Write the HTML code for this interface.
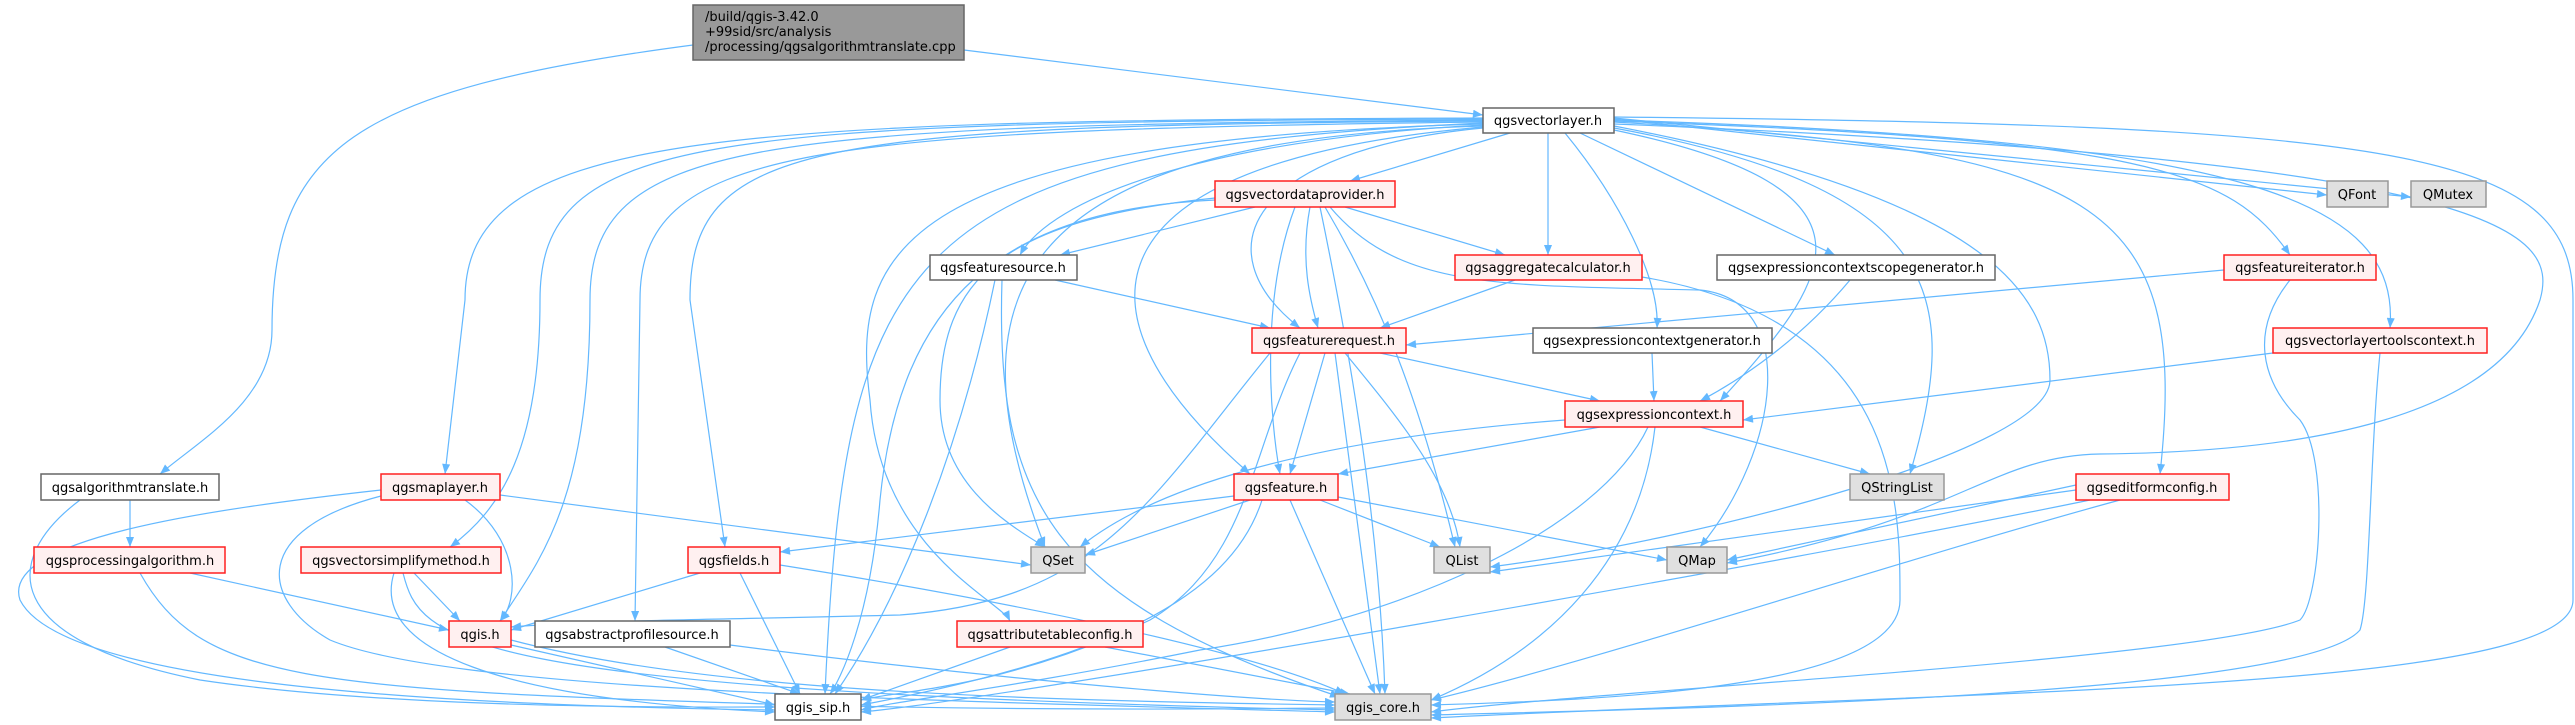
<!DOCTYPE html>
<html><head><meta charset="utf-8"><style>
html,body{margin:0;padding:0;background:#fff;}
svg{display:block;}
text{font-family:"DejaVu Sans","Liberation Sans",sans-serif;font-size:13px;fill:#000;}
.e path{fill:none;stroke:#63b8ff;stroke-width:1.2;}
.w{fill:#fff;stroke:#666;stroke-width:1.5;}
.r{fill:#fff0f0;stroke:#ff2020;stroke-width:1.5;}
.g{fill:#e0e0e0;stroke:#999;stroke-width:1.5;}
</style></head><body>
<svg width="2575" height="725" viewBox="0 0 2575 725" xmlns="http://www.w3.org/2000/svg">
<defs><marker id="a" viewBox="0 0 10 8" refX="10" refY="4" markerWidth="11" markerHeight="8" markerUnits="userSpaceOnUse" orient="auto"><path d="M0,0 L10,4 L0,8 z" fill="#63b8ff"/></marker></defs>
<g class="e">
<path marker-end="url(#a)" d="M964,50 L1483,115"/>
<path marker-end="url(#a)" d="M693,45 C350,90 272,150 272,330 C272,400 200,440 160,474"/>
<path marker-end="url(#a)" d="M130,500 L130,547"/>
<path marker-end="url(#a)" d="M80,500 C0,560 0,640 200,680 C400,710 700,707 775,707"/>
<path marker-end="url(#a)" d="M190,573 L449,630"/>
<path marker-end="url(#a)" d="M140,573 C200,680 300,690 800,705 C1100,712 1300,708 1335,708"/>
<path marker-end="url(#a)" d="M465,500 C520,540 520,600 500,621"/>
<path marker-end="url(#a)" d="M381,490 C200,510 0,540 20,600 C60,680 400,705 775,710"/>
<path marker-end="url(#a)" d="M381,496 C250,530 260,600 330,640 C450,690 900,700 1335,712"/>
<path marker-end="url(#a)" d="M500,495 L1031,565"/>
<path marker-end="url(#a)" d="M414,573 L460,621"/>
<path marker-end="url(#a)" d="M394,573 C370,650 500,700 775,712"/>
<path marker-end="url(#a)" d="M403,573 C420,640 450,690 1335,710"/>
<path marker-end="url(#a)" d="M700,573 L511,630"/>
<path marker-end="url(#a)" d="M740,573 L800,694"/>
<path marker-end="url(#a)" d="M780,565 C1000,600 1250,650 1345,694"/>
<path marker-end="url(#a)" d="M511,645 L775,705"/>
<path marker-end="url(#a)" d="M511,640 C700,690 1000,700 1335,705"/>
<path marker-end="url(#a)" d="M665,647 L800,694"/>
<path marker-end="url(#a)" d="M730,645 C1000,680 1250,700 1335,702"/>
<path marker-end="url(#a)" d="M1010,647 L861,700"/>
<path marker-end="url(#a)" d="M1105,647 L1350,694"/>
<path marker-end="url(#a)" d="M1234,496 L780,552"/>
<path marker-end="url(#a)" d="M1250,500 L1085,555"/>
<path marker-end="url(#a)" d="M1320,500 L1440,547"/>
<path marker-end="url(#a)" d="M1338,497 L1667,560"/>
<path marker-end="url(#a)" d="M1262,500 C1230,600 1100,660 861,705"/>
<path marker-end="url(#a)" d="M1290,500 L1375,694"/>
<path marker-end="url(#a)" d="M1600,427 L1338,474"/>
<path marker-end="url(#a)" d="M1565,420 C1300,440 1150,490 1080,547"/>
<path marker-end="url(#a)" d="M1700,427 L1870,474"/>
<path marker-end="url(#a)" d="M1648,427 C1600,530 1400,620 1200,650 C1000,690 900,700 861,710"/>
<path marker-end="url(#a)" d="M1655,427 C1640,560 1550,650 1431,700"/>
<path marker-end="url(#a)" d="M1380,353 L1600,401"/>
<path marker-end="url(#a)" d="M1325,353 L1290,474"/>
<path marker-end="url(#a)" d="M1345,353 C1400,420 1450,480 1460,547"/>
<path marker-end="url(#a)" d="M1335,353 L1380,694"/>
<path marker-end="url(#a)" d="M1270,353 C1150,500 1100,600 900,615 C700,620 600,620 511,627"/>
<path marker-end="url(#a)" d="M1300,353 C1250,450 1250,560 1150,620 C1000,690 900,690 861,700"/>
<path marker-end="url(#a)" d="M1652,353 L1654,401"/>
<path marker-end="url(#a)" d="M1850,280 C1800,340 1740,380 1700,401"/>
<path marker-end="url(#a)" d="M1055,280 L1270,328"/>
<path marker-end="url(#a)" d="M995,280 C960,450 900,600 835,694"/>
<path marker-end="url(#a)" d="M1002,280 C995,500 1050,600 1340,697"/>
<path marker-end="url(#a)" d="M1515,280 L1380,328"/>
<path marker-end="url(#a)" d="M1642,277 C1900,320 1900,500 1900,600 C1900,690 1600,700 1431,705"/>
<path marker-end="url(#a)" d="M1255,207 L1060,255"/>
<path marker-end="url(#a)" d="M1345,207 L1505,255"/>
<path marker-end="url(#a)" d="M1310,207 C1300,260 1310,300 1318,328"/>
<path marker-end="url(#a)" d="M1295,207 C1260,300 1270,420 1280,474"/>
<path marker-end="url(#a)" d="M1215,198 C1000,220 940,280 940,400 C940,480 1000,520 1045,547"/>
<path marker-end="url(#a)" d="M1325,207 C1380,300 1420,400 1455,547"/>
<path marker-end="url(#a)" d="M1330,207 C1400,290 1500,285 1700,290 C1800,300 1780,450 1700,547"/>
<path marker-end="url(#a)" d="M1320,207 C1360,400 1380,550 1385,694"/>
<path marker-end="url(#a)" d="M1215,200 C1000,210 900,300 880,500 C870,620 840,680 830,694"/>
<path marker-end="url(#a)" d="M2224,270 L1406,345"/>
<path marker-end="url(#a)" d="M2290,280 C2250,330 2260,380 2300,420 C2330,460 2320,600 2300,620 C2200,660 1600,690 1431,712"/>
<path marker-end="url(#a)" d="M2273,353 L1743,420"/>
<path marker-end="url(#a)" d="M2380,353 C2370,450 2370,600 2360,630 C2300,700 1600,710 1431,715"/>
<path marker-end="url(#a)" d="M2076,485 L1727,560"/>
<path marker-end="url(#a)" d="M2076,490 L1490,572"/>
<path marker-end="url(#a)" d="M2090,500 C1800,560 1000,700 861,712"/>
<path marker-end="url(#a)" d="M2120,500 C1900,560 1600,660 1431,700"/>
<path marker-end="url(#a)" d="M1510,133 L1350,181"/>
<path marker-end="url(#a)" d="M1548,133 L1548,255"/>
<path marker-end="url(#a)" d="M1565,133 C1620,200 1660,280 1657,328"/>
<path marker-end="url(#a)" d="M1580,133 L1835,255"/>
<path marker-end="url(#a)" d="M1614,130 C1900,190 1830,280 1720,401"/>
<path marker-end="url(#a)" d="M1614,128 C1950,190 1960,300 1910,474"/>
<path marker-end="url(#a)" d="M1614,126 C2000,200 2050,300 2050,380 C2050,450 1700,540 1490,567"/>
<path marker-end="url(#a)" d="M1614,124 C2500,160 2560,230 2540,300 C2500,420 2300,452 2100,454 C1990,456 1960,520 1727,563"/>
<path marker-end="url(#a)" d="M1614,122 C2100,150 2190,200 2160,474"/>
<path marker-end="url(#a)" d="M1614,121 C2150,140 2230,170 2290,255"/>
<path marker-end="url(#a)" d="M1614,120 C2250,140 2400,200 2390,328"/>
<path marker-end="url(#a)" d="M1614,119 L2327,195"/>
<path marker-end="url(#a)" d="M1614,118 L2411,197"/>
<path marker-end="url(#a)" d="M1614,117 C2400,125 2573,150 2573,300 L2573,600 C2573,690 2000,690 1431,718"/>
<path marker-end="url(#a)" d="M1483,128 C1250,150 1200,250 1300,328"/>
<path marker-end="url(#a)" d="M1483,125 C1200,140 1050,200 1020,255"/>
<path marker-end="url(#a)" d="M1483,127 C1100,160 1050,300 1250,474"/>
<path marker-end="url(#a)" d="M1483,126 C1000,140 950,300 1045,547"/>
<path marker-end="url(#a)" d="M1483,124 C900,140 850,250 870,400 C880,550 1000,600 1010,621"/>
<path marker-end="url(#a)" d="M1483,122 C800,130 640,150 640,300 L635,621"/>
<path marker-end="url(#a)" d="M1483,121 C800,125 690,145 690,300 L725,547"/>
<path marker-end="url(#a)" d="M1483,120 C750,125 590,140 590,300 C590,500 540,560 500,621"/>
<path marker-end="url(#a)" d="M1483,119 C700,122 540,135 540,300 C540,450 500,510 450,547"/>
<path marker-end="url(#a)" d="M1483,118 C700,120 465,135 465,300 L445,474"/>
<path marker-end="url(#a)" d="M1483,123 C900,150 845,250 825,694"/>
</g>
<g>
<rect x="693" y="5" width="271" height="55" fill="#999" stroke="#666" stroke-width="1.5"/>
<text x="705" y="21">/build/qgis-3.42.0</text>
<text x="705" y="36">+99sid/src/analysis</text>
<text x="705" y="51">/processing/qgsalgorithmtranslate.cpp</text>
</g>
<g text-anchor="middle">
<rect class="w" x="1483" y="108" width="131" height="25"/><text x="1548" y="125">qgsvectorlayer.h</text>
<rect class="r" x="1215" y="181" width="180" height="26"/><text x="1305" y="199">qgsvectordataprovider.h</text>
<rect class="g" x="2327" y="181" width="61" height="26"/><text x="2357" y="199">QFont</text>
<rect class="g" x="2411" y="181" width="75" height="26"/><text x="2448" y="199">QMutex</text>
<rect class="w" x="930" y="255" width="147" height="25"/><text x="1003" y="272">qgsfeaturesource.h</text>
<rect class="r" x="1455" y="255" width="187" height="25"/><text x="1548" y="272">qgsaggregatecalculator.h</text>
<rect class="w" x="1717" y="255" width="278" height="25"/><text x="1856" y="272">qgsexpressioncontextscopegenerator.h</text>
<rect class="r" x="2224" y="255" width="152" height="25"/><text x="2300" y="272">qgsfeatureiterator.h</text>
<rect class="r" x="1252" y="328" width="154" height="25"/><text x="1329" y="345">qgsfeaturerequest.h</text>
<rect class="w" x="1533" y="328" width="239" height="25"/><text x="1652" y="345">qgsexpressioncontextgenerator.h</text>
<rect class="r" x="2273" y="328" width="214" height="25"/><text x="2380" y="345">qgsvectorlayertoolscontext.h</text>
<rect class="r" x="1565" y="401" width="178" height="26"/><text x="1654" y="419">qgsexpressioncontext.h</text>
<rect class="w" x="41" y="474" width="178" height="26"/><text x="130" y="492">qgsalgorithmtranslate.h</text>
<rect class="r" x="381" y="474" width="119" height="26"/><text x="440" y="492">qgsmaplayer.h</text>
<rect class="r" x="1234" y="474" width="104" height="26"/><text x="1286" y="492">qgsfeature.h</text>
<rect class="g" x="1850" y="474" width="94" height="26"/><text x="1897" y="492">QStringList</text>
<rect class="r" x="2076" y="474" width="153" height="26"/><text x="2152" y="492">qgseditformconfig.h</text>
<rect class="r" x="34" y="547" width="191" height="26"/><text x="130" y="565">qgsprocessingalgorithm.h</text>
<rect class="r" x="301" y="547" width="200" height="26"/><text x="401" y="565">qgsvectorsimplifymethod.h</text>
<rect class="r" x="688" y="547" width="92" height="26"/><text x="734" y="565">qgsfields.h</text>
<rect class="g" x="1031" y="547" width="54" height="26"/><text x="1058" y="565">QSet</text>
<rect class="g" x="1434" y="547" width="56" height="26"/><text x="1462" y="565">QList</text>
<rect class="g" x="1667" y="547" width="60" height="26"/><text x="1697" y="565">QMap</text>
<rect class="r" x="449" y="621" width="62" height="26"/><text x="480" y="639">qgis.h</text>
<rect class="w" x="535" y="621" width="195" height="26"/><text x="632" y="639">qgsabstractprofilesource.h</text>
<rect class="r" x="957" y="621" width="186" height="26"/><text x="1050" y="639">qgsattributetableconfig.h</text>
<rect class="w" x="775" y="694" width="86" height="26"/><text x="818" y="712">qgis_sip.h</text>
<rect class="g" x="1335" y="694" width="96" height="26"/><text x="1383" y="712">qgis_core.h</text>
</g>
</svg>
</body></html>
